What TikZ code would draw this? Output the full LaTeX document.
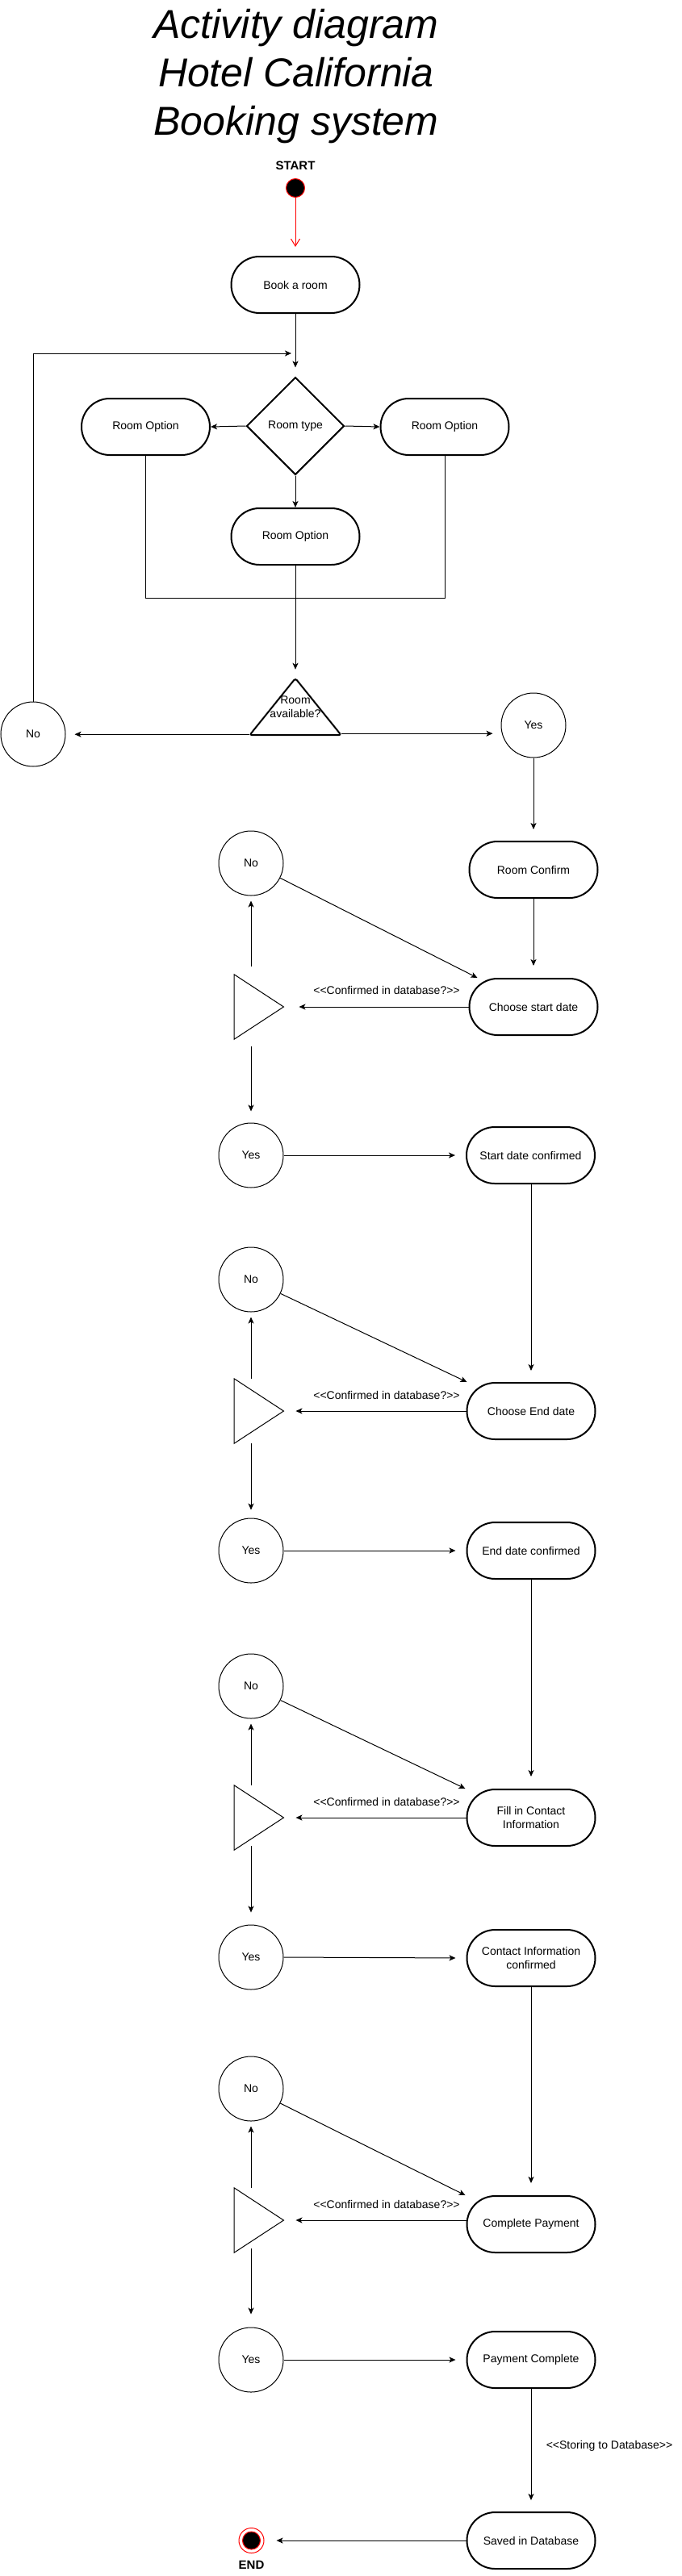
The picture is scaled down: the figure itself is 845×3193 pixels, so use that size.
\documentclass[tikz,border=0pt]{standalone}
\usepackage{fontspec}
\setmainfont{Liberation Sans}
\usetikzlibrary{arrows.meta,shapes.geometric,calc}
\newcommand{\ltlt}{\textless\kern0pt\textless\kern0pt}
\newcommand{\gtgt}{\kern0pt\textgreater\kern0pt\textgreater}
\tikzset{
  txt/.style={font=\fontsize{14}{17}\selectfont},
  act/.style={txt, draw, line width=2pt, rounded corners=35pt, minimum width=159pt, minimum height=70pt, inner sep=2pt, align=center},
  circ/.style={txt, draw, circle, line width=1pt, minimum size=80pt, inner sep=0pt},
  arr/.style={line width=1pt, -{Stealth[length=8pt,width=7pt,inset=2pt]}},
  lbl/.style={txt, inner sep=0pt},
  tribox/.style={minimum width=61pt, minimum height=80pt, inner sep=0pt},
  ttl/.style={font=\fontsize{50}{60}\selectfont\itshape, anchor=base, inner sep=0pt},
  bold/.style={font=\fontsize{15}{18}\selectfont\bfseries, anchor=base, inner sep=0pt},
}
\begin{document}
\begin{tikzpicture}[x=1pt, y=-1pt]
\useasboundingbox (0,0) rectangle (845,3193);
% title
\node[ttl] (title1) at (367,48) {Activity diagram};
\node[ttl] (title2) at (367,107) {Hotel California};
\node[ttl] (title3) at (367,167) {Booking system};
% start
\node[bold] (startlbl) at (366,210) {START};
\node[circle, fill=black, draw=red, line width=1pt, minimum size=23pt, inner sep=0pt] (sdot) at (366,233) {};
\node[act] (book) at (366,353) {Book a room};
\draw[red, line width=1pt, -{Straight Barb[length=9pt,width=11pt]}, shorten >=11pt] (sdot) -- (book);
% room type
\node[txt, diamond, draw, line width=2pt, minimum width=121pt, minimum height=121pt, inner sep=0pt] (rtype) at (366,528) {Room type};
\draw[arr, shorten >=11pt] (book) -- (rtype);
\node[act] (lro) at (180.5,529) {Room Option};
\node[act] (rro) at (551,529) {Room Option};
\node[act] (bro) at (366,665) {Room Option};
\draw[arr] (rtype.west) -- (lro.east);
\draw[arr] (rtype.east) -- (rro.west);
\draw[arr] (rtype.south) -- (bro.north);
\draw[line width=1pt] (lro.south) -- ++(0,176) -| (rro.south);
% room available
\node[txt, minimum width=113pt, minimum height=70pt, inner sep=0pt, align=center] (avail) at (366,876) {Room\\available?};
\draw[line width=2pt, rounded corners=3pt] (avail.south west) -- (avail.north) -- (avail.south east) -- cycle;
\draw[arr, shorten >=11pt] (bro.south) -- (avail.north);
\node[circ] (noA) at (41,910) {No};
\node[circ] (yesA) at (661,899) {Yes};
\draw[arr, shorten >=11pt] ([yshift=1pt]avail.south west) -- ([yshift=1pt]avail.south west -| noA.east);
\draw[arr, shorten >=10pt] ([yshift=2pt]avail.south east) -- ([yshift=2pt]avail.south east -| yesA.west);
\coordinate (fb) at (361,438);
\draw[arr] (noA.north) |- (fb);
\node[act] (rc) at (661,1078) {Room Confirm};
\draw[arr, shorten >=14pt] (yesA.south) -- (rc.north);
% section 1
\node[circ] (no1) at (311,1070) {No};
\node[act] (cs) at (661,1248) {Choose start date};
\node[tribox] (t1) at (320.75,1248) {};
\draw[line width=1pt] (t1.north west) -- (t1.east) -- (t1.south west) -- cycle;
\node[lbl] (c1) at (479,1227) {\ltlt Confirmed in database?\gtgt};
\node[circ] (yes1) at (311,1432) {Yes};
\node[act] (sdc) at (657.5,1432) {Start date confirmed};
\draw[arr, shorten >=15pt] (rc.south) -- (cs.north);
\draw[arr] (no1) -- ([xshift=11pt]cs.north west);
\draw[arr, shorten >=19pt] (cs.west) -- (t1.east);
\draw[arr, shorten <=10pt, shorten >=6pt] (t1.north -| no1.south) -- (no1.south);
\draw[arr, shorten <=9pt, shorten >=14pt] (t1.south -| yes1.north) -- (yes1.north);
\draw[arr, shorten >=13pt] (yes1.east) -- (sdc.west);
% section 2
\node[circ] (no2) at (311,1586) {No};
\node[act] (ced) at (658,1749) {Choose End date};
\node[tribox] (t2) at (320.75,1749) {};
\draw[line width=1pt] (t2.north west) -- (t2.east) -- (t2.south west) -- cycle;
\node[lbl] (c2) at (479,1729) {\ltlt Confirmed in database?\gtgt};
\node[circ] (yes2) at (311,1922) {Yes};
\node[act] (edc) at (658,1922) {End date confirmed};
\draw[arr, shorten >=14pt] (sdc.south -| ced.north) -- (ced.north);
\draw[arr] (no2) -- ([xshift=1pt]ced.north west);
\draw[arr, shorten >=15pt] (ced.west) -- (t2.east);
\draw[arr, shorten <=0pt, shorten >=6pt] (t2.north -| no2.south) -- (no2.south);
\draw[arr, shorten <=0pt, shorten >=10pt] (t2.south -| yes2.north) -- (yes2.north);
\draw[arr, shorten >=13pt] (yes2.east) -- (edc.west);
% section 3
\node[circ] (no3) at (311,2090) {No};
\node[act] (fci) at (658,2253) {Fill in Contact\\Information};
\node[tribox] (t3) at (320.75,2253) {};
\draw[line width=1pt] (t3.north west) -- (t3.east) -- (t3.south west) -- cycle;
\node[lbl] (c3) at (479,2233) {\ltlt Confirmed in database?\gtgt};
\node[circ] (yes3) at (311,2426) {Yes};
\node[act] (cic) at (658,2427) {Contact Information\\confirmed};
\draw[arr, shorten >=15pt] (edc.south) -- (fci.north);
\draw[arr] (no3) -- ([xshift=-1pt]fci.north west);
\draw[arr, shorten >=15pt] (fci.west) -- (t3.east);
\draw[arr, shorten <=0pt, shorten >=6pt] (t3.north -| no3.south) -- (no3.south);
\draw[arr, shorten <=-5pt, shorten >=15pt] (t3.south -| yes3.north) -- (yes3.north);
\draw[arr, shorten >=13pt] (yes3.east) -- (cic.west);
% section 4
\node[circ] (no4) at (311,2589) {No};
\node[act] (cp) at (658,2757) {Complete Payment};
\node[tribox] (t4) at (320.75,2752) {};
\draw[line width=1pt] (t4.north west) -- (t4.east) -- (t4.south west) -- cycle;
\node[lbl] (c4) at (479,2732) {\ltlt Confirmed in database?\gtgt};
\node[circ] (yes4) at (311,2925) {Yes};
\node[act] (pc) at (658,2925) {Payment Complete};
\draw[arr, shorten >=15pt] (cic.south) -- (cp.north);
\draw[arr] (no4) -- ([xshift=-1pt]cp.north west);
\draw[arr, shorten >=15pt] (cp.west |- t4.east) -- (t4.east);
\draw[arr, shorten <=0pt, shorten >=6pt] (t4.north -| no4.south) -- (no4.south);
\draw[arr, shorten <=-5pt, shorten >=16pt] (t4.south -| yes4.north) -- (yes4.north);
\draw[arr, shorten >=13pt] (yes4.east) -- (pc.west);
% end
\node[act] (sid) at (658,3149) {Saved in Database};
\draw[arr, shorten >=14pt] (pc.south) -- (sid.north);
\node[lbl] (stor) at (755,3032) {\ltlt Storing to Database\gtgt};
\node[circle, draw=red, line width=1pt, minimum size=31pt, inner sep=0pt] (enddot) at (311.5,3149) {};
\node[circle, fill=black, draw=red, line width=1pt, minimum size=22pt, inner sep=0pt] (endin) at (enddot) {};
\draw[arr, shorten >=15pt] (sid.west) -- (enddot.east);
\node[bold] (endlbl) at (311.5,3184) {END};
\end{tikzpicture}
\end{document}
